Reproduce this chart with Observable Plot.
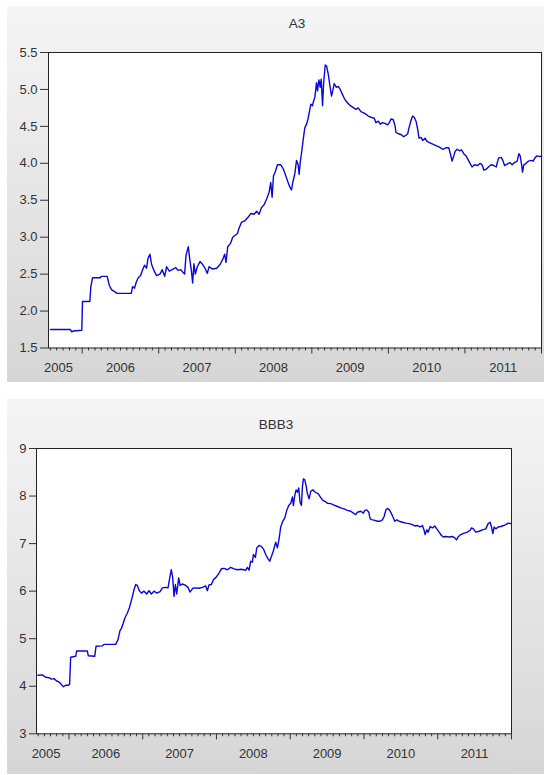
<!DOCTYPE html>
<html><head><meta charset="utf-8">
<script src="https://cdn.jsdelivr.net/npm/d3@7"></script>
<script src="https://cdn.jsdelivr.net/npm/@observablehq/plot@0.6"></script>
<style>
body{margin:0;background:#fff;width:544px;height:775px;position:relative;overflow:hidden;font-family:Arial,"Liberation Sans",sans-serif}
.panel{position:absolute;left:7px;width:537px;background:linear-gradient(#f5f5f5,#d6d6d6)}
#p1{top:6px;height:376px}
#p2{top:399px;height:375px}
.panel svg{position:absolute;left:0;top:0}
</style></head><body>
<div id="p1" class="panel"></div>
<div id="p2" class="panel"></div>
<script>
// ---- data (decimal year, value) ----
const a3Year = [2005.585,2005.847,2005.86,2005.89,2005.995,2006.004,2006.10,2006.113,2006.135,2006.24,2006.248,2006.327,2006.353,2006.383,2006.457,2006.641,2006.658,2006.684,2006.706,2006.732,2006.763,2006.793,2006.815,2006.841,2006.859,2006.885,2006.907,2006.937,2006.972,2007.016,2007.046,2007.077,2007.103,2007.138,2007.177,2007.221,2007.251,2007.286,2007.338,2007.356,2007.386,2007.408,2007.426,2007.443,2007.460,2007.478,2007.504,2007.539,2007.574,2007.604,2007.635,2007.657,2007.700,2007.757,2007.801,2007.840,2007.862,2007.879,2007.901,2007.940,2007.966,2008.028,2008.049,2008.080,2008.123,2008.167,2008.202,2008.246,2008.280,2008.311,2008.342,2008.376,2008.411,2008.442,2008.463,2008.481,2008.499,2008.520,2008.551,2008.594,2008.629,2008.660,2008.690,2008.717,2008.734,2008.751,2008.778,2008.800,2008.821,2008.834,2008.847,2008.869,2008.891,2008.908,2008.935,2008.952,2008.970,2008.987,2009.009,2009.022,2009.039,2009.061,2009.074,2009.092,2009.109,2009.122,2009.140,2009.153,2009.175,2009.192,2009.214,2009.236,2009.257,2009.275,2009.292,2009.318,2009.345,2009.371,2009.397,2009.423,2009.449,2009.475,2009.502,2009.532,2009.576,2009.606,2009.641,2009.685,2009.737,2009.781,2009.816,2009.837,2009.868,2009.894,2009.925,2009.955,2009.990,2010.012,2010.034,2010.064,2010.086,2010.099,2010.130,2010.165,2010.199,2010.230,2010.252,2010.269,2010.295,2010.317,2010.339,2010.361,2010.383,2010.400,2010.426,2010.448,2010.479,2010.500,2010.535,2010.579,2010.622,2010.666,2010.710,2010.753,2010.788,2010.810,2010.832,2010.854,2010.871,2010.897,2010.928,2010.958,2010.984,2011.015,2011.046,2011.072,2011.093,2011.124,2011.168,2011.198,2011.224,2011.246,2011.277,2011.307,2011.342,2011.377,2011.408,2011.438,2011.473,2011.495,2011.517,2011.551,2011.586,2011.617,2011.647,2011.682,2011.704,2011.721,2011.739,2011.752,2011.769,2011.800,2011.830,2011.865,2011.891,2011.918,2011.944,2011.974,2012.0];
const a3Value = [1.75,1.75,1.72,1.73,1.74,2.13,2.13,2.33,2.45,2.45,2.47,2.47,2.35,2.29,2.24,2.24,2.33,2.31,2.39,2.45,2.48,2.57,2.62,2.58,2.71,2.77,2.63,2.55,2.48,2.50,2.56,2.47,2.60,2.54,2.56,2.59,2.55,2.56,2.50,2.75,2.87,2.68,2.55,2.38,2.64,2.50,2.60,2.67,2.63,2.58,2.51,2.60,2.57,2.58,2.63,2.71,2.77,2.66,2.87,2.92,3.00,3.05,3.12,3.20,3.22,3.27,3.32,3.31,3.35,3.31,3.40,3.44,3.52,3.61,3.74,3.54,3.83,3.88,3.98,3.98,3.92,3.83,3.74,3.67,3.64,3.74,3.86,4.04,3.98,3.85,4.00,4.17,4.35,4.48,4.54,4.61,4.71,4.80,4.78,4.84,4.89,5.09,4.98,5.13,5.03,5.14,4.78,5.07,5.33,5.32,5.21,5.05,4.91,4.99,5.08,5.03,5.04,5.00,4.94,4.88,4.84,4.81,4.78,4.76,4.73,4.75,4.70,4.68,4.64,4.62,4.61,4.55,4.57,4.53,4.55,4.54,4.52,4.55,4.60,4.59,4.51,4.42,4.40,4.39,4.36,4.38,4.40,4.48,4.58,4.64,4.62,4.57,4.46,4.34,4.35,4.31,4.34,4.30,4.28,4.26,4.24,4.22,4.19,4.21,4.21,4.13,4.03,4.10,4.16,4.19,4.17,4.18,4.13,4.10,4.04,3.99,3.95,3.98,3.97,4.00,3.98,3.91,3.92,3.95,3.98,3.97,3.95,4.07,4.08,4.04,3.97,3.99,4.01,3.98,4.01,4.03,4.13,4.10,3.99,3.88,3.98,4.00,4.03,4.04,4.03,4.08,4.10,4.09,4.10];

const bbbYear = [2005.580,2005.639,2005.684,2005.729,2005.761,2005.797,2005.833,2005.865,2005.896,2005.924,2005.955,2005.987,2006.009,2006.023,2006.091,2006.104,2006.249,2006.263,2006.349,2006.367,2006.453,2006.475,2006.633,2006.665,2006.692,2006.710,2006.737,2006.760,2006.792,2006.819,2006.846,2006.864,2006.882,2006.905,2006.927,2006.954,2006.981,2007.018,2007.054,2007.085,2007.117,2007.153,2007.189,2007.235,2007.266,2007.311,2007.343,2007.370,2007.388,2007.406,2007.425,2007.443,2007.461,2007.488,2007.506,2007.537,2007.583,2007.614,2007.641,2007.678,2007.718,2007.764,2007.809,2007.854,2007.877,2007.899,2007.931,2007.958,2007.994,2008.035,2008.066,2008.103,2008.148,2008.193,2008.238,2008.284,2008.338,2008.397,2008.419,2008.442,2008.464,2008.487,2008.501,2008.528,2008.546,2008.577,2008.609,2008.636,2008.668,2008.699,2008.722,2008.745,2008.772,2008.803,2008.826,2008.849,2008.871,2008.894,2008.926,2008.953,2008.980,2009.007,2009.030,2009.043,2009.061,2009.079,2009.097,2009.115,2009.133,2009.152,2009.165,2009.179,2009.197,2009.215,2009.233,2009.256,2009.278,2009.305,2009.341,2009.378,2009.405,2009.436,2009.468,2009.504,2009.549,2009.595,2009.640,2009.685,2009.730,2009.775,2009.821,2009.857,2009.889,2009.911,2009.956,2009.992,2010.011,2010.038,2010.065,2010.083,2010.115,2010.146,2010.182,2010.219,2010.250,2010.273,2010.295,2010.318,2010.345,2010.372,2010.399,2010.417,2010.445,2010.476,2010.521,2010.567,2010.612,2010.657,2010.689,2010.725,2010.761,2010.793,2010.815,2010.829,2010.852,2010.870,2010.897,2010.928,2010.960,2010.987,2011.019,2011.050,2011.077,2011.109,2011.154,2011.199,2011.231,2011.254,2011.281,2011.312,2011.358,2011.403,2011.439,2011.457,2011.484,2011.516,2011.561,2011.606,2011.652,2011.683,2011.710,2011.729,2011.747,2011.765,2011.787,2011.819,2011.855,2011.891,2011.923,2011.954,2011.982,2012.0];
const bbbValue = [4.23,4.24,4.19,4.18,4.15,4.16,4.11,4.09,4.04,3.99,4.02,4.02,4.04,4.61,4.63,4.74,4.74,4.64,4.63,4.84,4.85,4.88,4.88,4.98,5.17,5.21,5.33,5.44,5.54,5.65,5.80,5.91,6.03,6.14,6.12,6.01,5.96,6.00,5.94,6.01,5.94,6.00,5.96,5.99,6.07,6.08,6.07,6.31,6.45,6.29,5.89,6.14,5.94,6.28,6.12,6.15,6.12,6.08,5.98,6.06,6.07,6.06,6.08,6.11,6.01,6.13,6.14,6.24,6.29,6.38,6.47,6.48,6.45,6.50,6.47,6.45,6.46,6.44,6.50,6.44,6.63,6.61,6.77,6.71,6.91,6.96,6.94,6.89,6.77,6.68,6.63,6.73,6.85,7.03,6.91,7.10,7.35,7.45,7.54,7.70,7.80,7.85,7.98,7.80,8.01,8.13,8.08,8.17,7.87,7.80,8.19,8.36,8.34,8.22,8.05,7.94,8.10,8.13,8.08,8.05,7.99,7.92,7.89,7.85,7.84,7.81,7.78,7.75,7.73,7.70,7.68,7.64,7.61,7.66,7.68,7.64,7.70,7.71,7.66,7.52,7.50,7.49,7.47,7.47,7.50,7.57,7.70,7.74,7.71,7.63,7.54,7.47,7.50,7.47,7.45,7.43,7.42,7.40,7.37,7.38,7.35,7.38,7.28,7.19,7.29,7.24,7.36,7.33,7.37,7.31,7.24,7.17,7.14,7.15,7.14,7.15,7.12,7.08,7.15,7.19,7.22,7.24,7.28,7.33,7.31,7.24,7.26,7.29,7.31,7.42,7.45,7.35,7.21,7.35,7.31,7.35,7.36,7.38,7.40,7.43,7.42,7.43];

const yearLabels = ["2005","2006","2007","2008","2009","2010","2011"];
const yearLabelPos = [2005.69, 2006.5, 2007.5, 2008.5, 2009.5, 2010.5, 2011.5];
const yearTicks = [2006, 2007, 2008, 2009, 2010, 2011, 2012];
const a3Ticks = [1.5, 2.0, 2.5, 3.0, 3.5, 4.0, 4.5, 5.0, 5.5];
const bbbTicks = [3, 4, 5, 6, 7, 8, 9];

const monthTicks = [];
for (let y = 2005; y <= 2011; y++) for (let m = 1; m < 12; m++) {
  const t = y + m / 12;
  if (t > 2005.57) monthTicks.push(t);
}

const a3 = a3Year.map((t, i) => ({t, v: a3Value[i]}));
const bbb = bbbYear.map((t, i) => ({t, v: bbbValue[i]}));

const FONT = "Arial, 'Liberation Sans', sans-serif";
const INK = "#333";
const LINE = "#0808dd";

function panel({title, data, yDomain, yTicks, yFmt, width, height, mL, mR, mT, mB, titleDy, yTickSize, labelDy}) {
  return Plot.plot({
    width, height,
    marginLeft: mL, marginRight: mR, marginTop: mT, marginBottom: mB,
    style: {background: "transparent", fontFamily: FONT, fontSize: "13px", color: INK},
    x: {domain: [2005.56, 2012.0], label: null},
    y: {domain: yDomain, label: null},
    marks: [
      Plot.frame({fill: "white"}),
      Plot.line(data, {x: "t", y: "v", stroke: LINE, strokeWidth: 1.4}),
      Plot.frame({stroke: "#222"}),
      Plot.axisY(yTicks, {tickSize: yTickSize, tickPadding: 3, tickFormat: yFmt, label: null, fontSize: 13, fill: INK}),
      Plot.axisX(monthTicks, {tickSize: 3, tickFormat: () => "", label: null}),
      Plot.axisX(yearTicks, {tickSize: 6, tickFormat: () => "", label: null}),
      Plot.text(yearLabels, {x: yearLabelPos, text: d => d, frameAnchor: "bottom", lineAnchor: "middle", dy: labelDy, fontSize: 13, fill: INK}),
      Plot.text([title], {text: d => d, frameAnchor: "top", lineAnchor: "middle", dy: titleDy, dx: 2, fontSize: 13.5, fill: INK})
    ]
  });
}

document.getElementById("p1").append(panel({
  title: "A3", data: a3, yDomain: [1.5, 5.5], yTicks: a3Ticks, yFmt: d => d.toFixed(1),
  width: 537, height: 376, mL: 41, mR: 3, mT: 46, mB: 34.5, titleDy: -28.4, yTickSize: 8, labelDy: 19.5
}));
document.getElementById("p2").append(panel({
  title: "BBB3", data: bbb, yDomain: [3, 9], yTicks: bbbTicks, yFmt: d => String(d),
  width: 537, height: 375, mL: 29, mR: 33, mT: 49, mB: 40.7, titleDy: -24, yTickSize: 7, labelDy: 20.5
}));
</script></body></html>
